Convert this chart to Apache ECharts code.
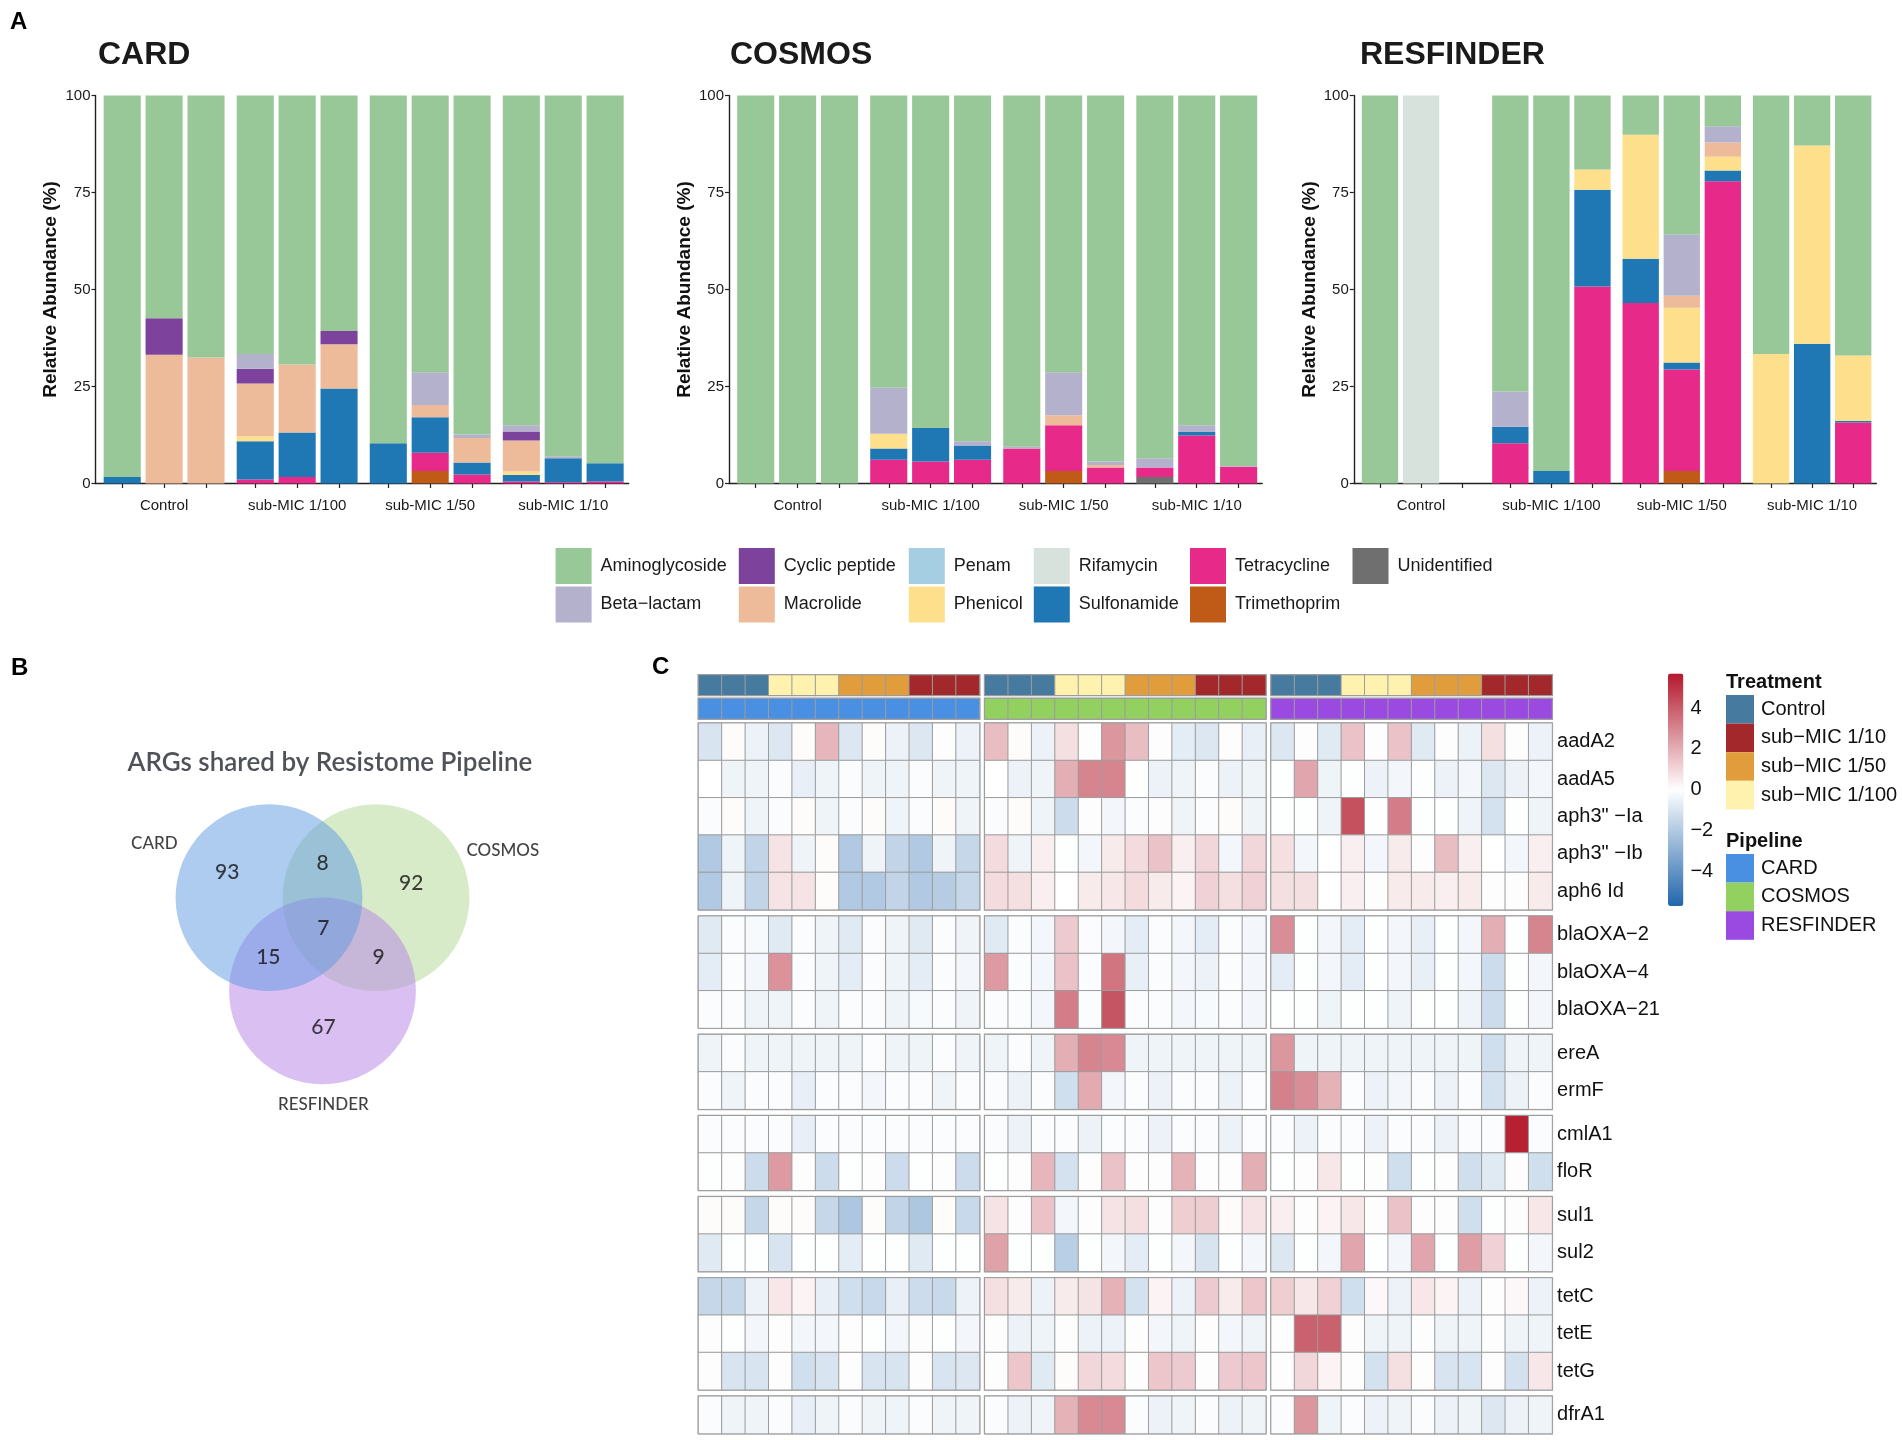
<!DOCTYPE html>
<html><head><meta charset="utf-8">
<script src="https://cdn.jsdelivr.net/npm/echarts@6/dist/echarts.min.js"></script>
<style>html,body{margin:0;padding:0;background:#fff}#c{width:1902px;height:1440px}</style>
</head><body><div id="c"></div>
<script>
// ---------------- DATA ----------------
const groupLabels = ['Control', 'sub-MIC 1/100', 'sub-MIC 1/50', 'sub-MIC 1/10'];
const pipelineNames = ['CARD', 'COSMOS', 'RESFINDER'];
const classNames = ['Aminoglycoside', 'Beta\u2212lactam', 'Cyclic peptide', 'Macrolide', 'Penam', 'Phenicol', 'Rifamycin', 'Sulfonamide', 'Tetracycline', 'Trimethoprim', 'Unidentified'];

// relative abundance (%) per class (rows in classNames order), 12 samples each
const cardAbundance = [
  [98.35, 57.4, 67.5, 66.6, 69.35, 60.7, 89.6, 71.3, 87.4, 85.0, 93.0, 94.8],
  [0, 0, 0, 3.8, 0, 0, 0, 8.5, 0.9, 1.6, 0.5, 0],
  [0, 9.4, 0, 3.8, 0, 3.4, 0, 0, 0, 2.3, 0, 0],
  [0, 33.2, 32.5, 13.6, 17.5, 11.4, 0, 3.1, 6.3, 8.0, 0, 0],
  [0, 0, 0, 0, 0, 0, 0, 0, 0, 0, 0, 0],
  [0, 0, 0, 1.3, 0, 0, 0, 0, 0, 0.9, 0, 0],
  [0, 0, 0, 0, 0, 0, 0, 0, 0, 0, 0, 0],
  [1.65, 0, 0, 9.9, 11.5, 24.5, 10.4, 9.2, 3.05, 1.7, 6.15, 4.7],
  [0, 0, 0, 1.0, 1.65, 0, 0, 4.7, 2.35, 0.5, 0.35, 0.5],
  [0, 0, 0, 0, 0, 0, 0, 3.2, 0, 0, 0, 0],
  [0, 0, 0, 0, 0, 0, 0, 0, 0, 0, 0, 0]
];
const cosmosAbundance = [
  [100, 100, 100, 75.3, 85.7, 89.1, 90.5, 71.3, 94.3, 93.5, 85.0, 95.5],
  [0, 0, 0, 11.9, 0, 1.1, 0.45, 11.1, 0.9, 2.4, 1.7, 0.2],
  [0, 0, 0, 0, 0, 0, 0, 0, 0, 0, 0, 0],
  [0, 0, 0, 0, 0, 0, 0, 2.6, 0.7, 0, 0, 0],
  [0, 0, 0, 0, 0, 0, 0, 0, 0, 0, 0, 0],
  [0, 0, 0, 3.75, 0, 0, 0, 0, 0, 0, 0, 0],
  [0, 0, 0, 0, 0, 0, 0, 0, 0, 0, 0, 0],
  [0, 0, 0, 2.95, 8.65, 3.7, 0, 0, 0, 0, 0.9, 0],
  [0, 0, 0, 6.1, 5.65, 6.1, 9.05, 11.8, 4.1, 2.45, 12.4, 4.3],
  [0, 0, 0, 0, 0, 0, 0, 3.2, 0, 0, 0, 0],
  [0, 0, 0, 0, 0, 0, 0, 0, 0, 1.65, 0, 0]
];
const resfinderAbundance = [
  [100, 0, 0, 76.3, 96.8, 19.1, 10.1, 35.9, 7.9, 66.6, 12.9, 67.0],
  [0, 0, 0, 9.1, 0, 0, 0, 15.7, 4.2, 0, 0, 0],
  [0, 0, 0, 0, 0, 0, 0, 0, 0, 0, 0, 0],
  [0, 0, 0, 0, 0, 0, 0, 3.1, 3.7, 0, 0, 0],
  [0, 0, 0, 0, 0, 0, 0, 0, 0, 0, 0, 0],
  [0, 0, 0, 0, 0, 5.2, 32.0, 14.1, 3.5, 33.4, 51.1, 16.9],
  [0, 100, 0, 0, 0, 0, 0, 0, 0, 0, 0, 0],
  [0, 0, 0, 4.2, 3.2, 24.9, 11.4, 1.8, 2.8, 0, 36.0, 0.4],
  [0, 0, 0, 10.4, 0, 50.8, 46.5, 26.2, 77.9, 0, 0, 15.7],
  [0, 0, 0, 0, 0, 0, 0, 3.2, 0, 0, 0, 0],
  [0, 0, 0, 0, 0, 0, 0, 0, 0, 0, 0, 0]
];

// Venn counts
const vennSets = ['CARD', 'COSMOS', 'RESFINDER'];
const vennRegions = ['CARD', 'COSMOS', 'RESFINDER', 'CARD&COSMOS', 'CARD&RESFINDER', 'COSMOS&RESFINDER', 'ALL'];
const vennCounts = [93, 92, 67, 8, 15, 9, 7];

// Heatmap (z-scores)
const genes = ['aadA2', 'aadA5', 'aph3" \u2212Ia', 'aph3" \u2212Ib', 'aph6 Id', 'blaOXA\u22122', 'blaOXA\u22124', 'blaOXA\u221221', 'ereA', 'ermF', 'cmlA1', 'floR', 'sul1', 'sul2', 'tetC', 'tetE', 'tetG', 'dfrA1'];
const geneGroupSizes = [5, 3, 2, 2, 2, 3, 1];
const heatCARD = [
  [-1.0, 0.1, -0.5, -0.9, 0.1, 1.8, -0.9, 0.1, -0.5, -0.9, 0.05, -0.5],
  [0, -0.4, -0.4, -0.1, -0.6, -0.4, -0.1, -0.4, -0.4, -0.1, -0.4, -0.4],
  [-0.1, 0.1, -0.4, -0.1, 0.1, -0.4, -0.1, 0.1, -0.4, -0.1, 0.1, -0.4],
  [-2.0, -0.4, -1.6, 0.7, -0.4, 0.1, -2.0, -0.4, -1.6, -2.0, -0.4, -1.5],
  [-2.0, -0.4, -1.6, 0.7, 0.7, 0.1, -2.0, -2.0, -1.6, -2.0, -1.9, -1.5],
  [-0.8, -0.1, -0.2, -0.8, -0.1, -0.4, -0.8, -0.1, -0.4, -0.8, -0.1, -0.4],
  [-0.7, -0.1, -0.3, 2.7, -0.1, -0.4, -0.7, -0.1, -0.4, -0.7, -0.1, -0.3],
  [-0.1, -0.1, -0.4, -0.4, -0.1, -0.4, -0.1, -0.1, -0.4, -0.2, -0.1, -0.4],
  [-0.4, -0.1, -0.4, -0.4, -0.4, -0.4, -0.4, -0.1, -0.4, -0.4, -0.1, -0.4],
  [-0.1, -0.4, -0.1, -0.1, -0.6, -0.1, -0.1, -0.3, -0.1, -0.1, -0.4, -0.1],
  [-0.1, -0.1, -0.1, -0.1, -0.6, -0.1, -0.1, -0.1, -0.1, -0.1, -0.1, -0.1],
  [-0.05, 0.05, -1.3, 2.5, 0.05, -1.3, -0.05, 0.05, -1.3, -0.05, 0.05, -1.3],
  [0.1, 0.1, -1.5, 0.1, 0.1, -1.5, -2.1, 0.1, -1.6, -2.1, 0.1, -1.4],
  [-0.8, -0.05, -0.05, -1.0, -0.05, -0.05, -0.7, -0.05, -0.05, -0.8, -0.05, -0.05],
  [-1.5, -1.5, -0.5, 0.6, 0.3, -0.6, -1.2, -1.4, -0.6, -1.3, -1.4, -0.5],
  [0.05, -0.05, -0.3, 0.05, -0.3, -0.3, 0.05, -0.05, -0.3, 0.05, -0.05, -0.3],
  [0.05, -1.0, -1.0, 0.05, -1.2, -1.0, 0.05, -1.0, -1.0, 0.05, -1.0, -0.9],
  [-0.1, -0.4, -0.4, -0.1, -0.6, -0.4, -0.1, -0.4, -0.4, -0.1, -0.4, -0.4]
];
const heatCOSMOS = [
  [1.6, 0.1, -0.5, 0.8, 0.05, 2.6, 1.6, 0.05, -0.7, -0.9, 0.05, -0.6],
  [0, -0.5, -0.4, 2.0, 3.0, 3.0, 0, -0.5, -0.4, -0.1, -0.5, -0.4],
  [-0.1, 0.1, -0.4, -1.3, 0.05, -0.3, -0.1, 0.05, -0.4, -0.1, 0.1, -0.4],
  [0.9, -0.4, 0.4, -0.05, -0.3, 0.5, 0.9, 1.5, 0.4, 1.0, -0.3, 1.0],
  [0.9, 0.8, 0.4, 0, 0.5, 0.6, 0.9, 0.5, 0.3, 1.1, 0.8, 1.1],
  [-0.8, -0.1, -0.3, 1.3, -0.1, -0.3, -0.7, -0.1, -0.3, -0.7, -0.1, -0.3],
  [2.5, -0.1, -0.3, 1.5, -0.1, 3.4, -0.6, -0.1, -0.3, -0.5, -0.1, -0.3],
  [-0.1, -0.1, -0.3, 3.2, -0.1, 4.2, -0.1, -0.1, -0.3, -0.2, -0.1, -0.3],
  [-0.4, -0.1, -0.4, 2.0, 3.0, 2.9, -0.4, -0.4, -0.4, -0.4, -0.4, -0.4],
  [-0.1, -0.5, -0.1, -1.2, 2.1, -0.3, -0.1, -0.5, -0.1, -0.1, -0.5, -0.1],
  [-0.1, -0.5, -0.1, -0.1, -0.5, -0.1, -0.1, -0.5, -0.1, -0.1, -0.5, -0.1],
  [-0.05, 0.05, 1.8, -1.1, 0.05, 1.5, 0.05, 0.05, 1.9, 0.05, 0.05, 2.0],
  [0.7, 0.05, 1.5, -0.3, 0.05, 0.7, 0.8, 0.05, 1.2, 1.2, 0.1, 0.7],
  [2.3, -0.05, -0.05, -1.8, -0.05, -0.3, -0.7, -0.05, -0.3, -1.0, -0.05, -0.3],
  [0.8, 0.5, -0.5, 0.5, 0.7, 1.9, -1.1, 0.3, -0.5, 1.3, 0.5, 1.4],
  [0.05, -0.5, -0.4, 0.05, -0.5, -0.5, 0.05, -0.3, -0.4, 0.05, -0.3, -0.4],
  [0.05, 1.4, -0.8, 0.1, 1.0, 0.9, 0.05, 1.4, 1.3, 0.05, 1.3, 1.4],
  [-0.1, -0.5, -0.4, 1.9, 2.9, 2.9, -0.1, -0.5, -0.4, -0.1, -0.5, -0.4]
];
const heatRESFINDER = [
  [-0.9, 0.05, -0.8, 1.5, 0.05, 1.5, -0.8, 0.05, -0.5, 0.8, 0.05, -0.5],
  [-0.05, 2.2, -0.4, -0.05, -0.5, -0.3, -0.05, -0.5, -0.3, -0.9, -0.5, -0.3],
  [-0.05, -0.05, -0.4, 4.3, -0.05, 3.2, -0.05, -0.05, -0.4, -1.1, -0.05, -0.4],
  [0.8, -0.3, 0, 0.4, -0.3, 0.5, 0.05, 1.6, 0.4, 0, -0.3, 0.4],
  [0.8, 0.8, 0, 0.4, 0.05, 0.5, 0.5, 0.4, 0.5, 0.05, 0.05, 0.5],
  [2.8, -0.05, -0.3, -0.7, -0.05, -0.3, -0.6, -0.05, -0.3, 2.0, -0.05, 3.0],
  [-0.7, -0.05, -0.3, -0.7, -0.05, -0.3, -0.6, -0.05, -0.3, -1.3, -0.05, -0.3],
  [-0.05, -0.05, -0.4, -0.05, -0.05, -0.4, -0.05, -0.05, -0.4, -1.3, -0.05, -0.3],
  [2.6, -0.4, -0.4, -0.4, -0.4, -0.4, -0.4, -0.4, -0.4, -1.2, -0.4, -0.4],
  [3.1, 2.8, 1.9, -0.1, -0.5, -0.3, -0.1, -0.5, -0.1, -1.1, -0.5, -0.1],
  [-0.1, -0.5, -0.1, -0.1, -0.5, -0.1, -0.1, -0.5, -0.1, -0.1, 5.5, -0.1],
  [-0.05, 0.05, 0.6, -0.05, 0.05, -1.2, -0.05, 0.05, -1.2, -0.8, 0.05, -1.2],
  [0.4, 0.05, 0.3, 0.6, 0.05, 1.5, 0.05, 0.05, -1.2, -0.05, 0.05, 0.6],
  [-0.9, -0.05, -0.3, 2.2, -0.05, -0.3, 2.2, -0.05, 2.4, 1.1, -0.05, -0.3],
  [1.2, 0.6, 1.1, -1.2, 0.2, -0.5, 0.6, 0.3, -0.5, 0.05, 0.2, -0.5],
  [0.05, 3.9, 3.9, 0.05, -0.4, -0.4, 0.05, -0.4, -0.4, 0.05, -0.4, -0.4],
  [0.05, 1.0, 0.3, 0.05, -1.1, 0.8, 0.05, -1.0, -1.0, 0.05, -1.1, 0.6],
  [-0.1, 2.6, -0.4, -0.1, -0.5, -0.4, -0.1, -0.5, -0.4, -0.9, -0.5, -0.4]
];
const treatmentLevels = ['Control', 'sub\u2212MIC 1/10', 'sub\u2212MIC 1/50', 'sub\u2212MIC 1/100'];
const sampleTreatment = [0, 0, 0, 3, 3, 3, 2, 2, 2, 1, 1, 1];
const colorbarTicks = [-4, -2, 0, 2, 4];
const colorbarRange = [-5.7, 5.7];

// ---------------- STYLE / LAYOUT ----------------
const FONT = '"Liberation Sans", Arial, Helvetica, sans-serif';
const VFONT = 'Lato, "Noto Sans", sans-serif';
const classColors = ['#98C798', '#B4B1CC', '#7D429B', '#EDBB99', '#A6CEE3', '#FEDF8B', '#D7E2DC', '#1F78B4', '#E7298A', '#BF5B17', '#6F6F6F'];
const treatmentColors = ['#467A9E', '#A3282C', '#E19D3C', '#FFF2AE'];
const pipelineColors = ['#4A90E2', '#92D160', '#9B4AE1'];
const vennColors = ['#5D97E1', '#AFD791', '#B581E5'];

const grids = [], xAxes = [], yAxes = [], series = [], graphics = [], visualMaps = [], legends = [];
function addGrid(g) { grids.push(g); return grids.length - 1; }

// ---- Panel A: stacked bars on a fine category axis (gaps between treatment groups) ----
const panelLeft = [95.5, 729, 1353.8], panelWidth = [533.2, 533.2, 522.5], panelTop = 95.5, panelHeight = 388;
const GAP = 0.175, SUB = 40, ML = 0.6375, MR = 0.5625;
const pos = i => Math.floor(i / 3) * (3 + GAP) + (i % 3);
const sampleIdx = Array.from({ length: 12 }, (_, i) => i);
const nSlots = Math.round((pos(11) + ML + MR) * SUB);
const slotOf = i => Math.round((ML + pos(i)) * SUB - 0.5);
const barSlots = sampleIdx.map(slotOf);
const labelSlots = [1, 4, 7, 10].map(slotOf);
const slotNames = Array.from({ length: nSlots }, (_, k) => 's' + k);
const abundances = [cardAbundance, cosmosAbundance, resfinderAbundance];
for (let p = 0; p < 3; p++) {
  const gi = addGrid({ left: panelLeft[p], top: panelTop, width: panelWidth[p], height: panelHeight });
  xAxes.push({
    type: 'category', gridIndex: gi, data: slotNames,
    axisLine: { show: true, onZero: false, lineStyle: { color: '#222', width: 1.4 } },
    axisTick: { show: true, alignWithLabel: true, interval: idx => barSlots.indexOf(idx) >= 0, length: 4.5, lineStyle: { color: '#222', width: 1.2 } },
    axisLabel: { interval: idx => labelSlots.indexOf(idx) >= 0, formatter: (v, idx) => groupLabels[labelSlots.indexOf(idx)] || '', fontSize: 15, color: '#1a1a1a', margin: 14.5, fontFamily: FONT },
    splitLine: { show: false }
  });
  yAxes.push({
    type: 'value', gridIndex: gi, min: 0, max: 100, interval: 25,
    axisLine: { show: true, onZero: false, lineStyle: { color: '#222', width: 1.4 } },
    axisTick: { show: true, length: 4, lineStyle: { color: '#222', width: 1.2 } },
    axisLabel: { fontSize: 15, color: '#1a1a1a', margin: 5, fontFamily: FONT },
    splitLine: { show: false },
    name: 'Relative Abundance (%)', nameLocation: 'middle', nameGap: 35,
    nameTextStyle: { fontSize: 19, fontWeight: 'bold', color: '#111', fontFamily: FONT }
  });
  const xi = xAxes.length - 1, yi = yAxes.length - 1;
  const step = panelWidth[p] / (nSlots / SUB);
  for (let k = classNames.length - 1; k >= 0; k--) {
    const data = new Array(nSlots).fill(null);
    abundances[p][k].forEach((v, i) => { data[barSlots[i]] = v; });
    series.push({
      type: 'bar', name: classNames[k], xAxisIndex: xi, yAxisIndex: yi, stack: 'panel' + p,
      barWidth: step * 0.885, data: data,
      itemStyle: { color: classColors[k] }, emphasis: { disabled: true }
    });
  }
}
// legend (column-major, 2 rows)
const legendCols = [[0, 1], [2, 3], [4, 5], [6, 7], [8, 9], [10]];
const legendLeft = [555.6, 738.8, 908.8, 1033.8, 1190, 1352.5];
legendCols.forEach((col, j) => {
  legends.push({
    orient: 'vertical', left: legendLeft[j], top: 548, padding: 0,
    itemWidth: 36, itemHeight: 36, itemGap: 2.5, icon: 'rect', selectedMode: false,
    data: col.map(k => classNames[k]),
    textStyle: { fontSize: 18, color: '#1a1a1a', fontFamily: FONT, padding: [0, 0, 0, 4] }
  });
});

// ---- Panel B: Venn (unit = circle radius) ----
{
  const R = 93.4, cx = 322.5, cy = 928.7, half = 2.5;
  const gi = addGrid({ left: cx - half * R, top: cy - half * R, width: 2 * half * R, height: 2 * half * R });
  xAxes.push({ type: 'value', gridIndex: gi, min: -half, max: half, show: false });
  yAxes.push({ type: 'value', gridIndex: gi, min: -half, max: half, show: false });
  const xi = xAxes.length - 1, yi = yAxes.length - 1;
  const setCenters = [[-0.573, 0.333], [0.573, 0.333], [0, -0.666]];
  const drawOrder = [1, 2, 0];
  drawOrder.forEach(s => {
    series.push({ type: 'scatter', xAxisIndex: xi, yAxisIndex: yi, symbolSize: 2 * R, silent: true,
      data: [setCenters[s]], itemStyle: { color: vennColors[s], opacity: 0.5 }, emphasis: { disabled: true } });
  });
  const regionPos = [[-1.02, 0.6], [0.95, 0.49], [0.01, -1.05], [0, 0.7], [-0.58, -0.31], [0.6, -0.31], [0.01, 0]];
  series.push({ type: 'scatter', xAxisIndex: xi, yAxisIndex: yi, symbolSize: 1, silent: true,
    itemStyle: { color: 'rgba(0,0,0,0)' },
    data: vennCounts.map((c, i) => ({ value: regionPos[i], name: String(c) })),
    label: { show: true, position: 'inside', formatter: p => p.name, fontSize: 21, color: '#111', fontFamily: VFONT, fontWeight: 500 } });
  const setLabelPos = [[-1.8, 0.91], [1.93, 0.84], [0.01, -1.88]];
  series.push({ type: 'scatter', xAxisIndex: xi, yAxisIndex: yi, symbolSize: 1, silent: true,
    itemStyle: { color: 'rgba(0,0,0,0)' },
    data: vennSets.map((s, i) => ({ value: setLabelPos[i], name: s })),
    label: { show: true, position: 'inside', formatter: p => p.name, fontSize: 17, color: '#111', fontFamily: VFONT, fontWeight: 500 } });
}

// ---- Panel C: heatmap ----
const blockLeft = [698.5, 984.8, 1271.1], blockW = 281, rowH = 37.3, groupGap = 6.5, heatTop = 723.2;
const heats = [heatCARD, heatCOSMOS, heatRESFINDER];
const colIds = sampleIdx.map(String);
const mainHeatIdx = [], treatIdx = [], pipeIdx = [];
let rowStart = 0;
geneGroupSizes.forEach((n, g) => {
  const top = heatTop + rowStart * rowH + g * groupGap;
  for (let b = 0; b < 3; b++) {
    const gi = addGrid({ left: blockLeft[b], top: top, width: blockW, height: n * rowH, show: true, borderColor: '#a8a8a8', borderWidth: 2, backgroundColor: 'transparent' });
    xAxes.push({ type: 'category', gridIndex: gi, data: colIds, show: false });
    yAxes.push({ type: 'category', gridIndex: gi, data: genes.slice(rowStart, rowStart + n), inverse: true, show: b === 2, position: 'right',
      axisLine: { show: false }, axisTick: { show: false }, splitLine: { show: false },
      axisLabel: { fontSize: 20, color: '#111', margin: 5, fontFamily: FONT } });
    const data = [];
    for (let r = 0; r < n; r++) for (let c = 0; c < 12; c++) data.push([c, r, heats[b][rowStart + r][c]]);
    series.push({ type: 'heatmap', xAxisIndex: xAxes.length - 1, yAxisIndex: yAxes.length - 1, data: data,
      itemStyle: { borderColor: '#9c9c9c', borderWidth: 1 }, emphasis: { disabled: true } });
    mainHeatIdx.push(series.length - 1);
  }
  rowStart += n;
});
// annotation rows
const annTop = [675, 698.6], annH = 20.3;
for (let b = 0; b < 3; b++) {
  for (let a = 0; a < 2; a++) {
    const gi = addGrid({ left: blockLeft[b], top: annTop[a], width: blockW, height: annH, show: true, borderColor: '#a8a8a8', borderWidth: 2, backgroundColor: 'transparent' });
    xAxes.push({ type: 'category', gridIndex: gi, data: colIds, show: false });
    yAxes.push({ type: 'category', gridIndex: gi, data: ['a'], show: false });
    const data = sampleIdx.map(c => [c, 0, a === 0 ? sampleTreatment[c] : 10 + b]);
    series.push({ type: 'heatmap', xAxisIndex: xAxes.length - 1, yAxisIndex: yAxes.length - 1, data: data,
      itemStyle: { borderColor: '#9c9c9c', borderWidth: 1 }, emphasis: { disabled: true } });
    (a === 0 ? treatIdx : pipeIdx).push(series.length - 1);
  }
}
// colour bar + its labels
visualMaps.push({
  type: 'continuous', seriesIndex: mainHeatIdx, dimension: 2, min: colorbarRange[0], max: colorbarRange[1],
  inRange: { color: ['#2166AC', '#FFFFFF', '#B2182B'] }, orient: 'vertical',
  left: 1668, top: 673.4, itemWidth: 15.4, itemHeight: 232.6, padding: 0, calculable: false, show: true, hoverLink: false
});
{
  const gi = addGrid({ left: 1668, top: 673.4, width: 15.4, height: 232.6 });
  xAxes.push({ type: 'value', gridIndex: gi, show: false });
  yAxes.push({ type: 'value', gridIndex: gi, min: colorbarRange[0], max: colorbarRange[1], position: 'right',
    axisLine: { show: false }, axisTick: { show: false }, splitLine: { show: false },
    axisLabel: { customValues: colorbarTicks, formatter: v => (v < 0 ? '\u2212' + (-v) : String(v)), fontSize: 20, color: '#111', margin: 7, fontFamily: FONT } });
}
visualMaps.push({
  type: 'piecewise', seriesIndex: treatIdx, dimension: 2, orient: 'vertical', inverse: true, align: 'left',
  pieces: treatmentLevels.map((l, i) => ({ value: i, label: l, color: treatmentColors[i] })),
  left: 1726, top: 695, itemWidth: 28, itemHeight: 28.6, itemGap: 0, textGap: 7, itemSymbol: 'rect',
  selectedMode: false, padding: 0, hoverLink: false, textStyle: { fontSize: 20, color: '#111', fontFamily: FONT }
});
visualMaps.push({
  type: 'piecewise', seriesIndex: pipeIdx, dimension: 2, orient: 'vertical', inverse: true, align: 'left',
  pieces: pipelineNames.map((l, i) => ({ value: 10 + i, label: l, color: pipelineColors[i] })),
  left: 1726, top: 854, itemWidth: 28, itemHeight: 28.6, itemGap: 0, textGap: 7, itemSymbol: 'rect',
  selectedMode: false, padding: 0, hoverLink: false, textStyle: { fontSize: 20, color: '#111', fontFamily: FONT }
});

// ---- texts ----
function txt(x, y, text, size, weight, color, align, family) {
  graphics.push({ type: 'text', x: x, y: y, silent: true,
    style: { text: text, fontSize: size, fontWeight: weight, fill: color, align: align || 'left', verticalAlign: 'middle', fontFamily: family || FONT } });
}
txt(10, 22, 'A', 24, 'bold', '#000');
txt(98, 55, 'CARD', 32, 'bold', '#1a1a1a');
txt(730, 55, 'COSMOS', 32, 'bold', '#1a1a1a');
txt(1360, 55, 'RESFINDER', 32, 'bold', '#1a1a1a');
txt(11, 668, 'B', 24, 'bold', '#000');
txt(652, 667, 'C', 24, 'bold', '#000');
txt(330, 763, 'ARGs shared by Resistome Pipeline', 26, 600, '#4f5358', 'center', VFONT);
txt(1726, 682, 'Treatment', 20, 'bold', '#111');
txt(1726, 841, 'Pipeline', 20, 'bold', '#111');

const chart = echarts.init(document.getElementById('c'), null, { renderer: 'canvas' });
chart.setOption({
  backgroundColor: '#ffffff', animation: false,
  grid: grids, xAxis: xAxes, yAxis: yAxes, series: series,
  legend: legends, visualMap: visualMaps, graphic: graphics
});
</script>
</body></html>
